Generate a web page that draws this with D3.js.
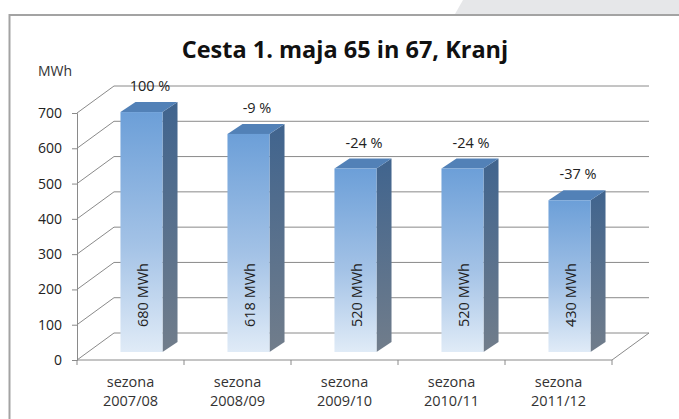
<!DOCTYPE html>
<html>
<head>
<meta charset="utf-8">
<script src="https://cdn.jsdelivr.net/npm/d3@7"></script>
<style>
  html, body { margin: 0; padding: 0; background: #fff; }
  svg { display: block; font-family: "Open Sans", "DejaVu Sans", sans-serif; }
</style>
</head>
<body>
<div id="chart"></div>
<script>
// --- data ---
const seasons = ['2007/08', '2008/09', '2009/10', '2010/11', '2011/12'];
const energy = [680, 618, 520, 520, 430];           // MWh
const changeLabels = ['100 %', '-9 %', '-24 %', '-24 %', '-37 %'];
const yTicks = [0, 100, 200, 300, 400, 500, 600, 700];

const width = 679, height = 419;

// 3D offsets (pseudo perspective)
const wall = { dx: 37, dy: -27 };     // back wall offset from front plane
const shift = { dx: 11, dy: -8 };     // bar front face offset
const depth = { dx: 15, dy: -10 };    // bar thickness

const svg = d3.select('#chart').append('svg')
    .attr('width', width).attr('height', height);

// background corner tab + frame
svg.append('path')
    .attr('d', `M463,0 L${width},0 L${width},14 L455,14 Z`)
    .attr('fill', '#e6e7e9');
svg.append('rect')
    .attr('x', 9.5).attr('y', 15).attr('width', 700).attr('height', 440)
    .attr('fill', '#fff').attr('stroke', '#a3a3a3').attr('stroke-width', 2);

const x = d3.scaleBand().domain(seasons).range([77, 612])
    .paddingInner(0.607).paddingOuter(0.3035);
const xCat = d3.scaleBand().domain(seasons).range([77, 612]);
const y = d3.scaleLinear().domain([0, 700]).range([360, 113]);

// gradients
const defs = svg.append('defs');
const front = defs.append('linearGradient').attr('id', 'frontGrad')
    .attr('x1', 0).attr('y1', 0).attr('x2', 0).attr('y2', 1);
front.append('stop').attr('offset', '0%').attr('stop-color', '#6c9fd8');
front.append('stop').attr('offset', '55%').attr('stop-color', '#a3c2e6');
front.append('stop').attr('offset', '100%').attr('stop-color', '#e0ebf7');
const side = defs.append('linearGradient').attr('id', 'sideGrad')
    .attr('x1', 0).attr('y1', 0).attr('x2', 0).attr('y2', 1);
side.append('stop').attr('offset', '0%').attr('stop-color', '#40648e');
side.append('stop').attr('offset', '100%').attr('stop-color', '#717d8b');

const gridColor = '#8a8a8a';

// left wall diagonals + back wall gridlines
const grid = svg.append('g').attr('stroke', gridColor).attr('stroke-width', 1).attr('fill', 'none');
yTicks.forEach(v => {
    const y0 = y(v);
    grid.append('path')
        .attr('d', `M77,${y0} L${77 + wall.dx},${y0 + wall.dy} L${612 + wall.dx},${y0 + wall.dy}`);
});
// floor
grid.append('path')
    .attr('d', `M77,${y(0)} L612,${y(0)} L${612 + wall.dx},${y(0) + wall.dy}`);

// y axis
const yAxis = svg.append('g')
    .attr('transform', 'translate(77,0)')
    .call(d3.axisLeft(y).tickValues(yTicks).tickSize(5).tickPadding(10));
yAxis.select('.domain').attr('stroke', gridColor);
yAxis.selectAll('line').attr('stroke', gridColor);
yAxis.selectAll('text')
    .attr('font-size', 14).attr('fill', '#222')
    .attr('font-family', '"Open Sans", sans-serif');

// x axis boundary ticks
const bounds = seasons.map(s => xCat(s)).concat([612]);
svg.append('g').selectAll('line').data(bounds).join('line')
    .attr('x1', d => d).attr('x2', d => d)
    .attr('y1', y(0)).attr('y2', y(0) + 5)
    .attr('stroke', gridColor);

// bars
const bars = svg.append('g').selectAll('g').data(energy).join('g');
bars.each(function (v, i) {
    const g = d3.select(this);
    const x0 = x(seasons[i]) + shift.dx;
    const w = x.bandwidth();
    const yTop = y(v) + shift.dy;
    const yBot = y(0) + shift.dy;
    // side face
    g.append('path')
        .attr('d', `M${x0 + w},${yTop} L${x0 + w + depth.dx},${yTop + depth.dy} L${x0 + w + depth.dx},${yBot + depth.dy} L${x0 + w},${yBot} Z`)
        .attr('fill', 'url(#sideGrad)');
    // top face
    g.append('path')
        .attr('d', `M${x0},${yTop} L${x0 + depth.dx},${yTop + depth.dy} L${x0 + w + depth.dx},${yTop + depth.dy} L${x0 + w},${yTop} Z`)
        .attr('fill', '#5281b7');
    // front face
    g.append('rect')
        .attr('x', x0).attr('y', yTop).attr('width', w).attr('height', yBot - yTop)
        .attr('fill', 'url(#frontGrad)');
    // value label inside bar
    g.append('text')
        .attr('transform', `translate(${x0 + w / 2 + 1},295) rotate(-90)`)
        .attr('text-anchor', 'middle').attr('dominant-baseline', 'central')
        .attr('font-size', 14.5).attr('fill', '#222')
        .text(`${v}  MWh`);
    // change label above bar
    g.append('text')
        .attr('x', x0 + w / 2 + depth.dx / 2 + 1)
        .attr('y', yTop + depth.dy - 11)
        .attr('text-anchor', 'middle')
        .attr('font-size', 14.5).attr('fill', '#222')
        .text(changeLabels[i]);
});

// category labels
const cat = svg.append('g').selectAll('text').data(seasons).join('text')
    .attr('x', d => xCat(d) + xCat.bandwidth() / 2)
    .attr('text-anchor', 'middle').attr('font-size', 14.5).attr('fill', '#333');
cat.append('tspan').attr('x', d => xCat(d) + xCat.bandwidth() / 2).attr('y', 387).text('sezona');
cat.append('tspan').attr('x', d => xCat(d) + xCat.bandwidth() / 2).attr('y', 406).text(d => d);

// unit label
svg.append('text')
    .attr('x', 38).attr('y', 76)
    .attr('font-size', 14).attr('fill', '#333')
    .text('MWh');

// title
svg.append('text')
    .attr('x', 345).attr('y', 58)
    .attr('text-anchor', 'middle')
    .attr('font-size', 23.5).attr('font-weight', 'bold').attr('fill', '#111')
    .text('Cesta 1. maja 65 in 67, Kranj');
</script>
</body>
</html>
